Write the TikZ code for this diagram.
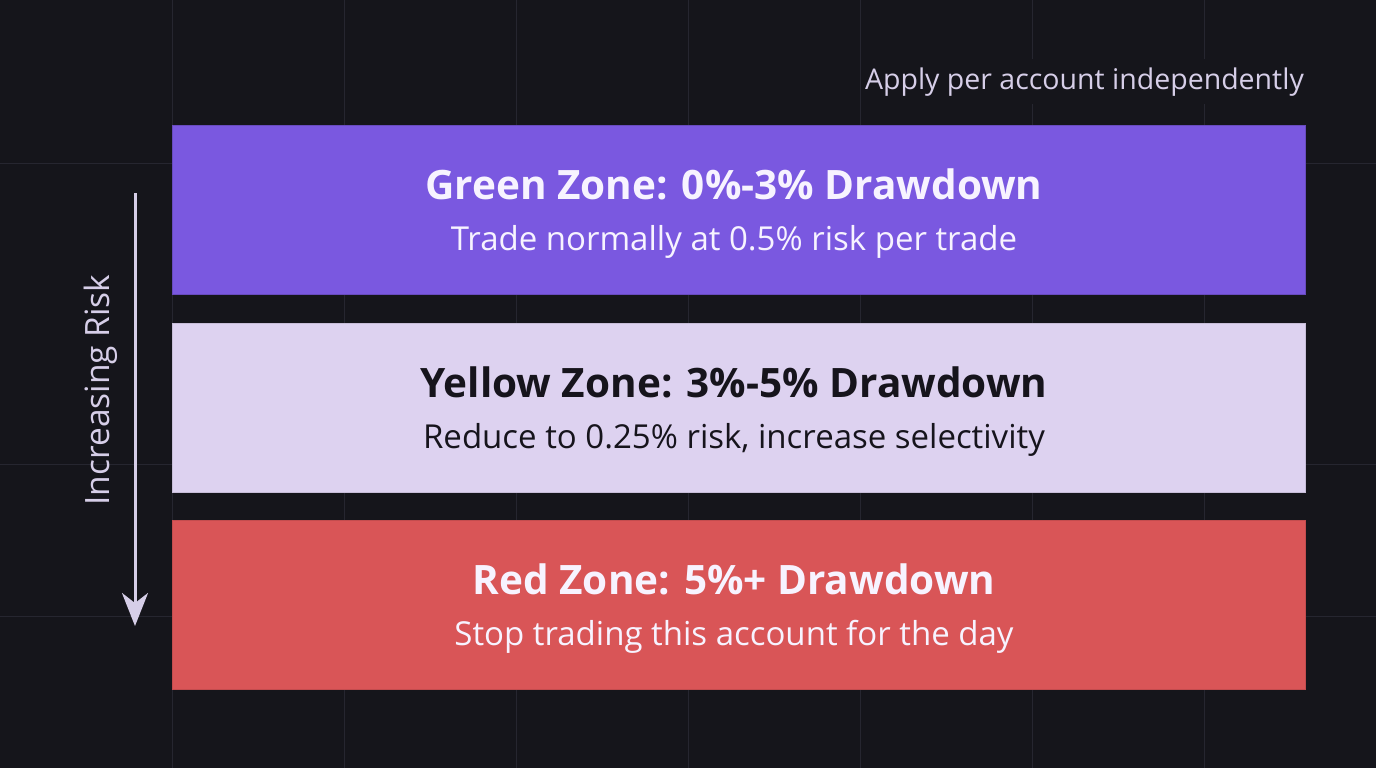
\documentclass[tikz,border=0pt]{standalone}
\usepackage{fontspec}
\setmainfont{Open Sans}
\usepackage{tikz}
\usetikzlibrary{positioning}
\usetikzlibrary{arrows.meta}
\definecolor{bgdark}{HTML}{15151B}
\definecolor{gridline}{HTML}{262630}
\definecolor{zpurple}{HTML}{7A58E0}
\definecolor{zlavender}{HTML}{DDD2F0}
\definecolor{zred}{HTML}{D95557}
\definecolor{txtlight}{HTML}{F7F3FF}
\definecolor{txtdark}{HTML}{16141C}
\definecolor{softlav}{HTML}{D6CEE8}

\begin{document}
\begin{tikzpicture}[
x = 1pt, y = -1pt,
zone/.style = {rectangle, minimum width = 1133pt, minimum height = 169pt,
  inner sep = 0pt, anchor = north west, line width = 1pt},
ztitle/.style = {anchor = base, inner sep = 0pt, font = \fontsize{40.5}{46}\selectfont\bfseries},
zsub/.style = {anchor = base, inner sep = 0pt, font = \fontsize{33}{38}\selectfont},
riskarrow/.style = {draw = softlav, line width = 3pt,
  -{Stealth[length = 33pt, width = 26pt, inset = 10pt]}}
]
\useasboundingbox (0,0) rectangle (1376,768);
\fill[bgdark] (0,0) rectangle (1376,768);

% grid
\foreach \gx in {172,344,...,1204}
    \draw[gridline, line width = 1pt] (\gx,0) -- (\gx,768);
\foreach \gy in {163,464,616}
    \draw[gridline, line width = 1pt] (0,\gy) -- (1376,\gy);

\node[anchor = base east, fill = bgdark, inner xsep = 0pt, inner ysep = 8pt,
  text = softlav, font = \fontsize{28.5}{32}\selectfont] (note) at (1304,89)
  {Apply per account independently};

% zones
\node[zone, fill = zpurple, draw = zpurple!85!black] (green) at (172,125) {};
\node[zone, fill = zlavender, draw = zlavender!90!black] (yellow) at (172,323) {};
\node[zone, fill = zred, draw = zred!90!black] (red) at (172,520) {};

\node[ztitle, text = txtlight] (greentitle) at ([xshift = -5pt, yshift = -74pt]green.north)
    {Green Zone: 0\%-3\% Drawdown};
\node[zsub, text = txtlight] (greensub) at ([xshift = -5pt, yshift = -125pt]green.north)
    {Trade normally at 0.5\% risk per trade};

\node[ztitle, text = txtdark] (yellowtitle) at ([xshift = -5pt, yshift = -74pt]yellow.north)
    {Yellow Zone: 3\%-5\% Drawdown};
\node[zsub, text = txtdark] (yellowsub) at ([xshift = -5pt, yshift = -125pt]yellow.north)
    {Reduce to 0.25\% risk, increase selectivity};

\node[ztitle, text = txtlight] (redtitle) at ([xshift = -5pt, yshift = -74pt]red.north)
    {Red Zone: 5\%+ Drawdown};
\node[zsub, text = txtlight] (redsub) at ([xshift = -5pt, yshift = -125pt]red.north)
    {Stop trading this account for the day};

% risk arrow
\coordinate (risktop) at (135,193);
\coordinate (riskend) at (135,626);
\draw[riskarrow] (risktop) -- (riskend);
\node[rotate = 90, text = softlav, inner sep = 0pt,
  font = \fontsize{33.5}{38}\selectfont] (risklabel) at (101,390) {Increasing Risk};
\end{tikzpicture}
\end{document}
